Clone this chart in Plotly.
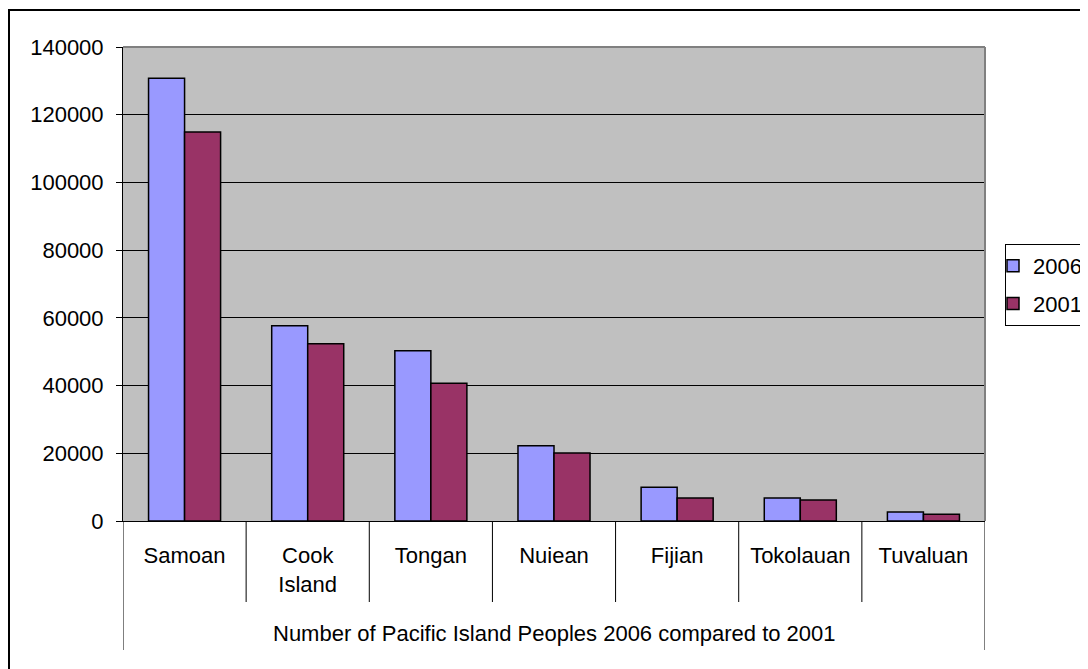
import plotly.graph_objects as go

# ---- data ----
categories = ["Samoan", "Cook<br>Island", "Tongan", "Nuiean", "Fijian", "Tokolauan", "Tuvaluan"]
values_2006 = [130800, 57700, 50300, 22200, 9970, 6800, 2660]
values_2001 = [114900, 52350, 40700, 20100, 6800, 6210, 1980]
series_names = ["2006", "2001"]
y_ticks = [0, 20000, 40000, 60000, 80000, 100000, 120000, 140000]
axis_title = "Number of Pacific Island Peoples 2006 compared to 2001"

# ---- layout geometry (screen pixels; page body has an 8px margin) ----
OFF = 8
SW, SH = 1088, 669
L, R, T, B = 123, 985, 47, 521
pw, ph = R - L, B - T


def px_x(x):
    return (x - L) / pw


def px_y(y):
    return (B - y) / ph


FONT = "Arial, 'Liberation Sans', sans-serif"

fig = go.Figure()
fig.add_trace(go.Bar(x=list(range(len(categories))), y=values_2006, name=series_names[0],
                     legendgroup="a",
                     marker=dict(color="#9999FF", line=dict(color="black", width=1.5))))
fig.add_trace(go.Bar(x=list(range(len(categories))), y=values_2001, name=series_names[1],
                     legendgroup="b",
                     marker=dict(color="#993366", line=dict(color="black", width=1.5))))

shapes = []
n = len(categories)
# inner dividers
for i in range(1, n):
    shapes.append(dict(type="line", xref="x", yref="paper", x0=i - 0.5, x1=i - 0.5,
                       y0=0, y1=px_y(602), line=dict(color="black", width=1), layer="above"))
# outer dividers
for xb in (-0.5, n - 0.5):
    shapes.append(dict(type="line", xref="x", yref="paper", x0=xb, x1=xb,
                       y0=0, y1=px_y(650), line=dict(color="black", width=1), layer="above"))
# plot-area border (top and right, grey)
shapes.append(dict(type="line", xref="paper", yref="paper", x0=0, x1=1, y0=1, y1=1,
                   line=dict(color="#808080", width=2), layer="above"))
shapes.append(dict(type="line", xref="paper", yref="paper", x0=1, x1=1, y0=0, y1=1,
                   line=dict(color="#808080", width=2), layer="above"))
# chart-area border
shapes.append(dict(type="rect", xref="paper", yref="paper",
                   x0=px_x(9), x1=px_x(1100), y0=px_y(680), y1=px_y(10),
                   line=dict(color="black", width=2), fillcolor="rgba(0,0,0,0)", layer="above"))

fig.update_layout(
    width=SW - OFF, height=SH - OFF,
    margin=dict(l=L - OFF, r=SW - R, t=T - OFF, b=SH - B, autoexpand=False),
    paper_bgcolor="white",
    plot_bgcolor="#C0C0C0",
    font=dict(family=FONT, size=22, color="black"),
    barmode="group",
    bargap=0.415,
    bargroupgap=0,
    showlegend=True,
    legend=dict(x=px_x(1005), y=px_y(244), xanchor="left", yanchor="top",
                bgcolor="white", bordercolor="black", borderwidth=1,
                font=dict(family=FONT, size=22, color="black"),
                indentation=-13, traceorder="grouped", tracegroupgap=6),
    shapes=shapes,
    annotations=[dict(text=axis_title, xref="paper", yref="paper", x=0.5, y=px_y(633),
                      xanchor="center", yanchor="middle", showarrow=False,
                      font=dict(family=FONT, size=22, color="black"))],
)
fig.update_xaxes(
    tickmode="array", tickvals=list(range(n)), ticktext=categories,
    range=[-0.5, n - 0.5], showgrid=False, zeroline=False,
    showline=True, linecolor="black", linewidth=1,
    ticks="", ticklabelstandoff=15,
    tickfont=dict(family=FONT, size=22, color="black"),
)
fig.update_yaxes(
    range=[0, 140000], tickmode="array", tickvals=y_ticks,
    ticktext=[str(v) for v in y_ticks],
    showgrid=True, gridcolor="black", gridwidth=1,
    zeroline=False, showline=True, linecolor="black", linewidth=1,
    ticks="outside", ticklen=6, tickcolor="black", ticklabelstandoff=8,
    tickfont=dict(family=FONT, size=22, color="black"),
)

fig.write_html("out.html")
